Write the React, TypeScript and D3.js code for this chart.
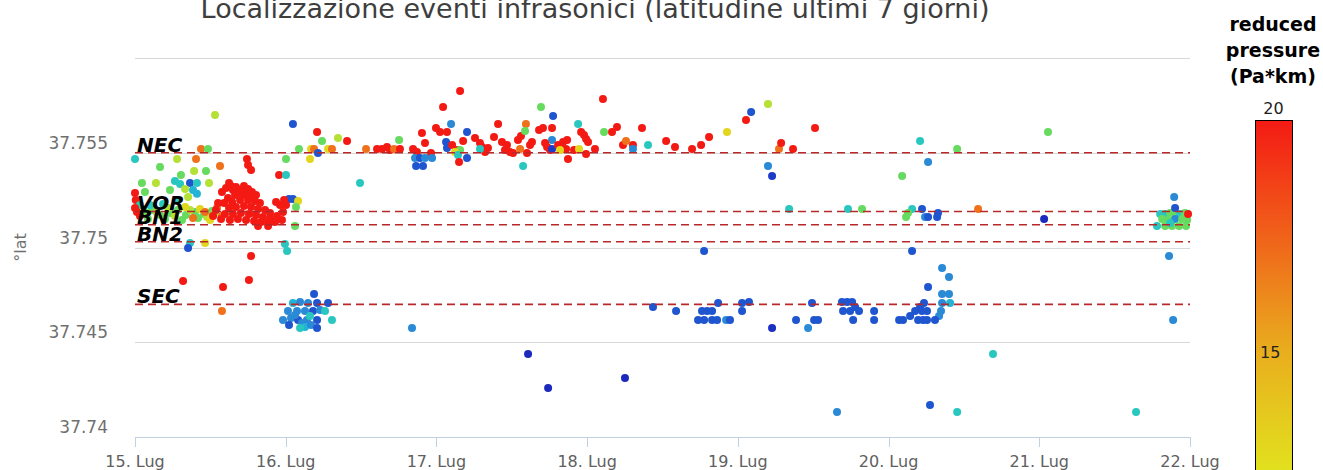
import * as d3 from "d3";

// pressure classes (Pa*km)
const R = 21, O = 17, Y = 13, YG = 11.5, G = 10, T = 7.5, C = 6.5, LB = 5, B = 3.5, DB = 1.5;

const dayLabels = ["15. Lug", "16. Lug", "17. Lug", "18. Lug", "19. Lug", "20. Lug", "21. Lug", "22. Lug"];
const latTicks = [37.74, 37.745, 37.75, 37.755, 37.76];
const latTickLabels = ["37.74", "37.745", "37.75", "37.755", ""];

const refNames = ["NEC", "VOR", "BN1", "BN2", "SEC"];
const refLats = [37.755, 37.7519, 37.7512, 37.7503, 37.747];

const colorStops = [0, 2, 3.5, 5, 6.5, 8, 9.5, 11, 12.5, 15, 17.5, 20];
const colorValues = ["#1a1aa8", "#1b2fc4", "#1f55cf", "#2a8ad6", "#22b4d4", "#2ed0b8", "#4cd870", "#9ee040", "#e2e01e", "#e9ae1e", "#f0621a", "#f41a14"];

// [day since 15 Lug, latitude, reduced pressure]
type Ev = [number, number, number];

const leftUpperEvents: Ev[] = [
  [0.0, 37.75467, T], [0.531, 37.75699, YG], [0.438, 37.7552, O], [0.484, 37.7552, G],
  [0.279, 37.75467, YG], [0.405, 37.75467, O], [0.743, 37.75467, R], [0.75, 37.75435, R],
  [0.77, 37.75409, R], [0.564, 37.7543, O], [0.392, 37.75404, YG], [0.471, 37.75404, G],
  [0.305, 37.75383, G], [0.956, 37.75383, R], [1.002, 37.75383, T], [0.046, 37.7534, G],
  [0.139, 37.7534, YG], [0.265, 37.75351, T], [0.299, 37.75335, T], [0.365, 37.7534, B],
  [0.411, 37.7534, T], [0.491, 37.7534, YG], [0.385, 37.75303, C], [0.411, 37.75283, C],
  [0.624, 37.7534, R], [0.332, 37.75309, YG], [0.352, 37.75267, YG], [0.066, 37.75293, G],
  [0.0, 37.75288, R], [0.005, 37.75251, R], [0.166, 37.75425, G], [0.285, 37.75251, T],
  [0.232, 37.75303, G], [1.002, 37.75467, G], [1.161, 37.75467, Y], [1.088, 37.7552, G],
  [1.168, 37.7552, Y], [1.188, 37.7552, O], [1.281, 37.7552, Y], [1.307, 37.7552, O],
  [1.214, 37.75499, B], [1.048, 37.75652, B], [1.208, 37.75609, R], [1.241, 37.75562, G],
  [1.347, 37.75578, YG], [1.407, 37.75562, R], [1.022, 37.75256, B], [1.048, 37.75256, B],
  [1.082, 37.75246, Y], [1.068, 37.75214, G], [1.493, 37.7534, T],
];

const vorRedEvents: Ev[] = [
  [0.577, 37.75293, R], [0.604, 37.75314, R], [0.637, 37.75325, R], [0.67, 37.75319, R],
  [0.697, 37.75303, R], [0.723, 37.75325, R], [0.75, 37.75309, R], [0.776, 37.75293, R],
  [0.803, 37.75277, R], [0.717, 37.75277, R], [0.664, 37.75277, R], [0.617, 37.75261, R],
  [0.591, 37.75235, R], [0.644, 37.7524, R], [0.697, 37.75251, R], [0.75, 37.75251, R],
  [0.796, 37.75246, R], [0.829, 37.75235, R], [0.624, 37.75208, R], [0.67, 37.75214, R],
  [0.723, 37.75219, R], [0.77, 37.75214, R], [0.816, 37.75203, R], [0.863, 37.75198, R],
  [0.896, 37.75182, R], [0.597, 37.75177, R], [0.65, 37.75177, R], [0.703, 37.75182, R],
  [0.756, 37.75177, R], [0.803, 37.75172, R], [0.849, 37.75161, R], [0.896, 37.7515, R],
  [0.942, 37.75166, R], [0.982, 37.75187, R], [0.962, 37.75224, R], [0.936, 37.7524, R],
  [0.989, 37.75251, R], [0.571, 37.7515, R], [0.63, 37.75145, R], [0.683, 37.7515, R],
  [0.737, 37.75145, R], [0.79, 37.7514, R], [0.836, 37.75135, R], [0.883, 37.75129, R],
  [0.537, 37.75198, R], [0.551, 37.75235, R], [0.518, 37.75166, R], [0.929, 37.75135, R],
  [0.975, 37.75145, R], [1.002, 37.75224, R], [0.683, 37.75293, R], [0.737, 37.75288, R],
  [0.776, 37.75261, R], [0.65, 37.75303, R], [0.0, 37.75208, R], [0.013, 37.75187, R],
  [0.033, 37.75166, R],
];

const vorBandEvents: Ev[] = [
  [0.066, 37.75187, G], [0.113, 37.75198, G], [0.166, 37.75172, G], [0.232, 37.75182, G],
  [0.285, 37.75198, G], [0.338, 37.75172, G], [0.398, 37.75187, G], [0.458, 37.75177, G],
  [0.511, 37.75193, G], [0.086, 37.7515, G], [0.199, 37.7515, G], [0.312, 37.75145, G],
  [0.418, 37.75156, G], [0.146, 37.75182, YG], [0.265, 37.75166, YG], [0.365, 37.75198, YG],
  [0.478, 37.75161, YG], [0.531, 37.75182, YG], [0.219, 37.75208, YG], [0.431, 37.75203, Y],
  [0.498, 37.75145, Y], [0.332, 37.75214, Y], [0.385, 37.75156, O], [0.465, 37.75187, O],
  [0.544, 37.75208, O], [0.577, 37.75166, O], [0.033, 37.75224, T], [0.1, 37.75224, T],
  [0.186, 37.7523, T], [0.816, 37.75113, R], [0.883, 37.75113, R], [1.062, 37.75113, G],
];

const lowerLeftEvents: Ev[] = [
  [0.365, 37.75024, T], [0.352, 37.74997, B], [0.465, 37.75024, Y], [0.995, 37.75019, T],
  [1.009, 37.74982, T], [0.77, 37.74955, R], [0.319, 37.74823, R], [0.584, 37.74792, R],
  [0.756, 37.74828, R], [0.577, 37.74665, O],
];

const secClusterEvents: Ev[] = [
  [1.188, 37.74755, B], [1.048, 37.74707, C], [1.095, 37.74712, LB], [1.148, 37.74707, LB],
  [1.208, 37.74707, B], [1.281, 37.74707, B], [1.015, 37.74665, LB], [1.075, 37.74665, LB],
  [1.128, 37.74665, LB], [1.181, 37.74665, B], [1.228, 37.7467, LB], [1.261, 37.74665, T],
  [0.982, 37.74617, LB], [1.035, 37.74628, LB], [1.082, 37.74617, B], [1.141, 37.74617, LB],
  [1.208, 37.74617, B], [1.307, 37.74617, T], [1.022, 37.74591, B], [1.108, 37.74602, LB],
  [1.128, 37.74581, C], [1.168, 37.74591, LB], [1.208, 37.74575, B], [1.062, 37.74644, LB],
  [1.161, 37.74639, T], [1.095, 37.74575, T],
];

const necEvents: Ev[] = [
  [1.533, 37.7552, O], [1.606, 37.7552, R], [1.639, 37.7552, R], [1.672, 37.7553, R],
  [1.692, 37.75515, R], [1.719, 37.7552, O], [1.752, 37.75567, G], [1.758, 37.7552, R],
  [1.845, 37.7552, R], [1.871, 37.75504, R], [1.904, 37.75604, R], [1.924, 37.75551, R],
  [1.964, 37.75499, R], [1.858, 37.75472, LB], [1.891, 37.75472, B], [1.924, 37.75472, LB],
  [1.971, 37.75472, LB], [1.865, 37.7543, B], [1.911, 37.7543, B], [2.044, 37.75741, R],
  [2.157, 37.75826, R], [1.997, 37.7563, R], [2.024, 37.75609, R], [2.07, 37.75609, R],
  [2.097, 37.75652, LB], [2.064, 37.75557, B], [2.07, 37.75525, B], [2.203, 37.75609, B],
  [2.177, 37.75562, R], [2.104, 37.75541, R], [2.137, 37.75515, R], [2.157, 37.75515, G],
  [2.123, 37.75504, Y], [2.143, 37.75488, T], [2.15, 37.75451, R], [2.203, 37.75472, B],
  [2.256, 37.75578, R], [2.289, 37.75551, R], [2.303, 37.7553, R], [2.342, 37.75525, R],
  [2.323, 37.75504, R], [2.289, 37.7552, T], [2.409, 37.75652, R], [2.382, 37.75583, R],
  [2.435, 37.75557, R], [2.468, 37.75541, R], [2.455, 37.75515, R], [2.488, 37.75504, R],
  [2.508, 37.75499, R], [2.555, 37.7552, O], [2.601, 37.75499, R], [2.575, 37.7543, T],
  [2.541, 37.75567, R], [2.561, 37.75588, R], [2.594, 37.75652, O], [2.588, 37.75615, G],
  [2.694, 37.75741, G], [2.774, 37.75694, B], [2.681, 37.7562, R], [2.707, 37.7563, R],
  [2.767, 37.7563, R], [2.634, 37.75557, R], [2.621, 37.75541, R], [2.767, 37.75567, LB],
  [2.721, 37.75551, R], [2.734, 37.7553, R], [2.754, 37.75515, R], [2.767, 37.7552, 2.5],
  [2.807, 37.75541, R], [2.84, 37.75557, R], [2.867, 37.75567, R], [2.834, 37.7552, R],
  [2.86, 37.7552, R], [2.82, 37.75515, Y], [2.873, 37.75467, R], [2.94, 37.75652, T],
  [2.96, 37.75609, R], [2.979, 37.75594, R], [2.993, 37.75573, R], [3.006, 37.75557, R],
  [2.913, 37.75515, R], [2.946, 37.7552, Y], [2.993, 37.75493, R], [3.052, 37.7552, R],
  [3.105, 37.75784, R], [3.112, 37.75609, G], [3.165, 37.75609, R], [3.198, 37.75636, R],
  [3.238, 37.75541, R], [3.258, 37.75562, O], [3.304, 37.75541, R], [3.304, 37.7552, LB],
  [3.364, 37.7563, R], [3.404, 37.75541, T], [3.524, 37.75562, R], [3.583, 37.7553, R],
  [3.696, 37.7552, R], [3.756, 37.75541, R], [3.809, 37.75583, R], [3.928, 37.75609, Y],
  [4.054, 37.75673, R], [4.088, 37.75715, B], [4.2, 37.75757, YG], [4.273, 37.7552, O],
  [4.287, 37.75551, R], [4.366, 37.7552, R], [4.512, 37.7563, R], [4.2, 37.7543, LB],
  [4.227, 37.75377, 2.5],
];

const midEvents: Ev[] = [
  [4.34, 37.75203, T], [4.731, 37.75203, T], [4.824, 37.75203, G], [5.156, 37.75203, T],
  [5.222, 37.75203, B], [5.242, 37.75161, LB], [5.262, 37.75161, B], [5.322, 37.75161, B],
  [5.328, 37.75182, B], [5.116, 37.75161, G], [5.129, 37.75182, G], [5.594, 37.75203, O],
  [6.032, 37.7515, DB], [5.209, 37.75562, T], [5.262, 37.75451, LB], [5.09, 37.75377, G],
  [5.455, 37.7552, G], [6.058, 37.75609, G], [3.776, 37.74982, B], [5.156, 37.74982, B],
  [5.355, 37.74892, LB], [5.401, 37.74844, LB], [5.262, 37.74792, B], [5.355, 37.74755, LB],
  [5.401, 37.74755, LB], [5.355, 37.74707, LB], [5.408, 37.74707, C], [5.348, 37.74665, LB],
  [5.335, 37.74639, LB], [5.308, 37.74617, B],
];

const secRowEvents: Ev[] = [
  [3.437, 37.74686, B], [3.59, 37.74665, B], [3.762, 37.74665, B], [3.796, 37.74665, B],
  [3.829, 37.74665, B], [3.869, 37.74707, B], [3.736, 37.74617, B], [3.776, 37.74617, B],
  [3.829, 37.74617, B], [3.862, 37.74617, B], [3.922, 37.74617, LB], [3.948, 37.74617, B],
  [4.028, 37.74707, B], [4.074, 37.74712, B], [4.028, 37.74665, B], [4.227, 37.74575, 2],
  [4.386, 37.74617, B], [4.466, 37.74575, LB], [4.492, 37.74707, B], [4.506, 37.74617, B],
  [4.532, 37.74617, B], [4.691, 37.74712, B], [4.725, 37.74712, B], [4.758, 37.74712, B],
  [4.698, 37.74665, B], [4.745, 37.74665, B], [4.778, 37.74686, B], [4.804, 37.74665, B],
  [4.765, 37.74617, B], [4.904, 37.74665, B], [4.904, 37.74617, B], [5.07, 37.74617, B],
  [5.096, 37.74617, B], [5.143, 37.74639, B], [5.176, 37.74665, B], [5.209, 37.74686, B],
  [5.235, 37.74707, B], [5.196, 37.74617, B], [5.229, 37.74617, B], [5.255, 37.74617, B],
  [5.222, 37.74665, B], [5.255, 37.74665, B],
];

const bottomEvents: Ev[] = [
  [1.838, 37.74575, LB], [2.608, 37.74438, DB], [2.741, 37.74259, DB], [3.251, 37.74311, DB],
  [4.658, 37.74132, LB], [5.275, 37.74169, B], [5.455, 37.74132, T], [5.693, 37.74438, T],
  [6.642, 37.74132, T],
];

const rightClusterEvents: Ev[] = [
  [6.895, 37.75267, LB], [6.861, 37.74955, LB], [6.888, 37.74617, LB],
  [6.802, 37.75177, T], [6.835, 37.75177, T], [6.868, 37.75182, G], [6.901, 37.75177, G],
  [6.934, 37.75177, T], [6.967, 37.75182, G], [6.815, 37.7515, G], [6.855, 37.75145, G],
  [6.901, 37.7515, LB], [6.948, 37.7515, G], [6.981, 37.75145, G], [6.781, 37.75113, T],
  [6.835, 37.75113, G], [6.881, 37.75113, G], [6.928, 37.75113, G], [6.974, 37.75113, G],
  [6.987, 37.75177, R], [6.901, 37.75208, B], [6.868, 37.75129, T],
];

const allEvents: Ev[] = [
  ...leftUpperEvents, ...vorBandEvents, ...vorRedEvents, ...lowerLeftEvents, ...secClusterEvents,
  ...necEvents, ...midEvents, ...secRowEvents, ...bottomEvents, ...rightClusterEvents,
];

const font = "'DejaVu Sans', Verdana, sans-serif";

export default function App() {
  const width = 1323;
  const height = 470;

  const x = d3.scaleLinear().domain([0, 7]).range([135, 1190]);
  const y = d3.scaleLinear().domain([37.74, 37.76]).range([437, 58]);
  const color = d3.scaleLinear<string>().domain(colorStops).range(colorValues).clamp(true);

  // colour bar: 20 at the top, runs off the bottom of the page
  const cbar = d3.scaleLinear().domain([0, 20]).range([1048, 120]);
  const cbX = 1255;
  const cbW = 37;
  // gradient stops must go top (20) -> bottom (0)
  const gradStops = colorStops.map((v, i) => ({ v, c: colorValues[i] })).reverse();

  const days = d3.range(dayLabels.length);

  return (
    <svg
      width={width}
      height={height}
      style={{ position: "absolute", left: 0, top: 0, background: "#fff" }}
      fontFamily={font}
    >
      <defs>
        <linearGradient id="cbGrad" gradientUnits="userSpaceOnUse" x1={0} x2={0} y1={cbar(20)} y2={cbar(0)}>
          {gradStops.map((s) => (
            <stop key={s.v} offset={(20 - s.v) / 20} stopColor={s.c} />
          ))}
        </linearGradient>
      </defs>

      <text x={595} y={18} textAnchor="middle" fontSize={27} fill="#3e3e3e">
        Localizzazione eventi infrasonici (latitudine ultimi 7 giorni)
      </text>

      {/* grid */}
      {latTicks.slice(1).map((v) => (
        <line key={v} x1={x(0)} x2={x(7)} y1={Math.round(y(v)) + 0.5} y2={Math.round(y(v)) + 0.5} stroke="#d8d8d8" strokeWidth={1} />
      ))}

      {/* y labels */}
      {latTicks.map((v, i) => (
        <text key={v} x={108} y={y(v) - 4} textAnchor="end" fontSize={17} fill="#707070">
          {latTickLabels[i]}
        </text>
      ))}
      <text transform={`translate(26,${y(37.75)}) rotate(-90)`} textAnchor="middle" fontSize={16} fill="#707070">
        °lat
      </text>

      {/* x axis */}
      <line x1={x(0)} x2={x(7)} y1={437.5} y2={437.5} stroke="#c0d0e0" />
      {days.map((d) => (
        <g key={d}>
          <line x1={Math.round(x(d)) + 0.5} x2={Math.round(x(d)) + 0.5} y1={437} y2={447} stroke="#c0d0e0" />
          <text x={x(d)} y={467} textAnchor="middle" fontSize={16} fill="#606060">
            {dayLabels[d]}
          </text>
        </g>
      ))}

      {/* events */}
      {allEvents.map((e, i) => (
        <circle key={i} cx={x(e[0])} cy={y(e[1])} r={4} fill={color(e[2])} />
      ))}

      {/* reference latitudes */}
      {refLats.map((v, i) => (
        <line key={refNames[i]} x1={x(0)} x2={x(7)} y1={y(v)} y2={y(v)} stroke="#b8282a" strokeWidth={1.6} strokeDasharray="8,5" />
      ))}
      {refLats.map((v, i) => (
        <text key={refNames[i]} x={137} y={y(v) - 1} fontSize={20} fontWeight="bold" fontStyle="italic" fill="#000">
          {refNames[i]}
        </text>
      ))}

      {/* colour legend */}
      {["reduced", "pressure", "(Pa*km)"].map((t, i) => (
        <text key={t} x={1273} y={31 + i * 26} textAnchor="middle" fontSize={19} fontWeight="bold" fill="#000">
          {t}
        </text>
      ))}
      <rect x={cbX + 0.5} y={cbar(20) + 0.5} width={cbW} height={cbar(0) - cbar(20)} fill="url(#cbGrad)" stroke="#000" strokeWidth={1} />
      <text x={cbX + cbW / 2} y={cbar(20) - 6} textAnchor="middle" fontSize={16} fill="#222">
        20
      </text>
      <text x={cbX + 5} y={cbar(15) + 6} fontSize={16} fill="#222">
        15
      </text>
    </svg>
  );
}
